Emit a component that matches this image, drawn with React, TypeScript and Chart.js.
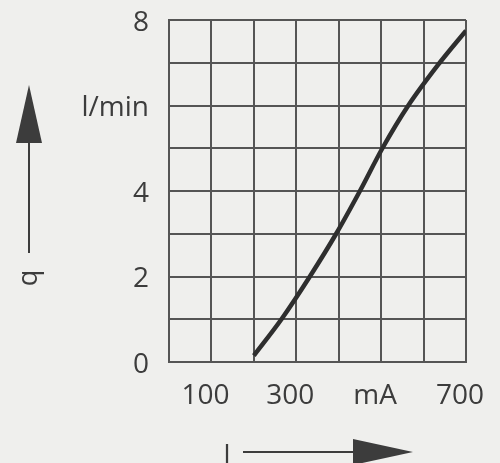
import React, { useEffect, useRef } from "react";
import { Chart, registerables } from "chart.js";

Chart.register(...registerables);

const currentMA = [200, 265, 332, 394, 450, 503, 564, 638, 700];
const flowLMin = [0.15, 1.0, 2.0, 3.0, 4.0, 5.0, 6.0, 7.0, 7.75];
const xTickLabels: Record<number, string> = { 100: "100", 300: "300", 500: "mA", 700: "700" };
const yTickLabels: Record<number, string> = { 0: "0", 2: "2", 4: "4", 6: "l/min", 8: "8" };
const yTitle = "q";
const xTitle = "I";

const BG = "#efefed";
const INK = "#3c3c3c";
const GRID = "#555555";
const FONT = "'Open Sans', sans-serif";

const decorPlugin = {
  id: "decor",
  beforeDraw(chart: any) {
    const { ctx, width, height } = chart;
    ctx.save();
    ctx.fillStyle = BG;
    ctx.fillRect(0, 0, width, height);
    ctx.restore();
  },
  afterDraw(chart: any) {
    const { ctx } = chart;
    ctx.save();
    ctx.strokeStyle = INK;
    ctx.fillStyle = INK;
    ctx.lineWidth = 2;
    // vertical arrow (q)
    ctx.beginPath();
    ctx.moveTo(29, 253);
    ctx.lineTo(29, 140);
    ctx.stroke();
    ctx.beginPath();
    ctx.moveTo(29, 85);
    ctx.lineTo(42, 143);
    ctx.lineTo(16, 143);
    ctx.closePath();
    ctx.fill();
    // horizontal arrow (I)
    ctx.beginPath();
    ctx.moveTo(243, 452);
    ctx.lineTo(356, 452);
    ctx.stroke();
    ctx.beginPath();
    ctx.moveTo(413, 452);
    ctx.lineTo(353, 439);
    ctx.lineTo(353, 465);
    ctx.closePath();
    ctx.fill();
    // titles
    ctx.font = `27px ${FONT}`;
    ctx.textAlign = "center";
    ctx.textBaseline = "middle";
    ctx.save();
    ctx.translate(29, 278);
    ctx.rotate(-Math.PI / 2);
    ctx.fillText(yTitle, 0, 0);
    ctx.restore();
    ctx.fillText(xTitle, 227, 456);
    ctx.restore();
  },
};

export default function App() {
  const ref = useRef<HTMLCanvasElement>(null);
  useEffect(() => {
    if (!ref.current) return;
    const chart = new Chart(ref.current, {
      type: "scatter",
      data: {
        datasets: [
          {
            data: currentMA.map((x, i) => ({ x, y: flowLMin[i] })),
            showLine: true,
            borderColor: "#2e2e2e",
            borderWidth: 4.5,
            pointRadius: 0,
            cubicInterpolationMode: "monotone",
            fill: false,
          },
        ],
      },
      options: {
        responsive: false,
        animation: false,
        layout: { padding: { top: 20, right: 34, left: 0, bottom: 0 } },
        plugins: { legend: { display: false }, tooltip: { enabled: false } },
        scales: {
          x: {
            type: "linear",
            min: 0,
            max: 700,
            afterFit: (s: any) => {
              s.height = 101;
              s.paddingLeft = 0;
              s.paddingRight = 0;
            },
            grid: { color: GRID, lineWidth: 2, drawTicks: false },
            border: { color: GRID, width: 2 },
            ticks: {
              stepSize: 100,
              autoSkip: false,
              maxRotation: 0,
              padding: 17,
              labelOffset: -6,
              color: INK,
              font: { family: FONT, size: 28 },
              callback: (v: any) => xTickLabels[v as number] ?? "",
            },
          },
          y: {
            type: "linear",
            min: 0,
            max: 8,
            afterFit: (s: any) => {
              s.width = 169;
              s.paddingTop = 0;
              s.paddingBottom = 0;
            },
            grid: { color: GRID, lineWidth: 2, drawTicks: false },
            border: { color: GRID, width: 2 },
            ticks: {
              stepSize: 1,
              autoSkip: false,
              padding: 20,
              labelOffset: 3,
              color: INK,
              font: { family: FONT, size: 28 },
              callback: (v: any) => yTickLabels[v as number] ?? "",
            },
          },
        },
      },
      plugins: [decorPlugin],
    });
    return () => chart.destroy();
  }, []);
  return (
    <canvas
      ref={ref}
      width={500}
      height={463}
      style={{ position: "absolute", left: 0, top: 0, width: 500, height: 463 }}
    />
  );
}
